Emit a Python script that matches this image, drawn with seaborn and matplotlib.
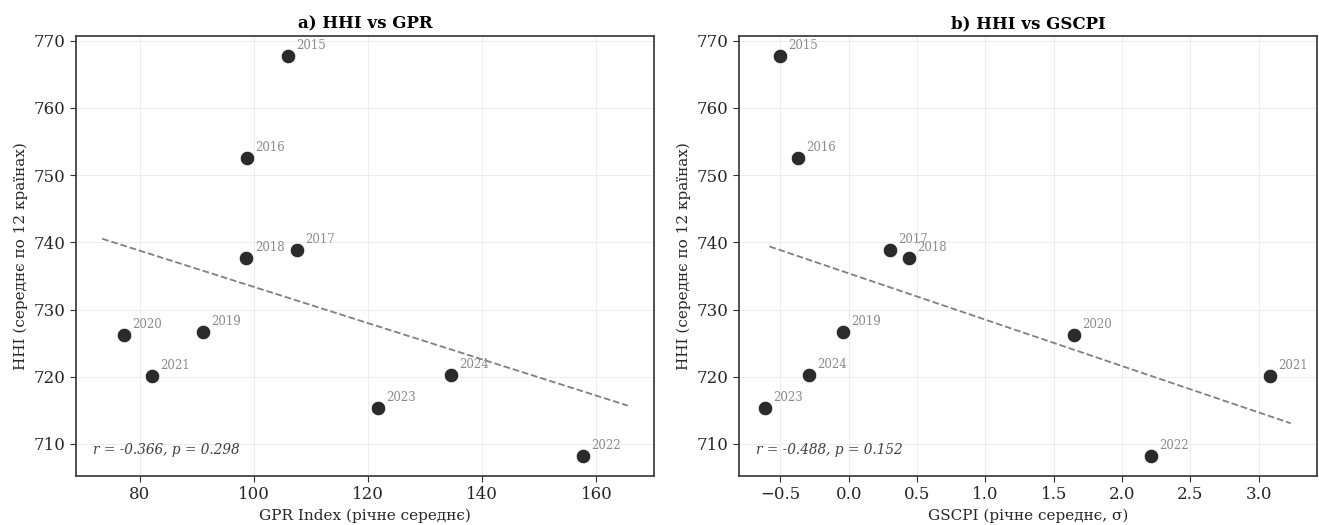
import numpy as np
import pandas as pd
import seaborn as sns
import matplotlib.pyplot as plt

# Annual averages 2015-2024
years = [2015, 2016, 2017, 2018, 2019, 2020, 2021, 2022, 2023, 2024]
hhi = [767.7, 752.5, 738.9, 737.7, 726.6, 726.2, 720.1, 708.2, 715.3, 720.2]
gpr = [106.0, 98.8, 107.5, 98.7, 91.0, 77.3, 82.1, 157.6, 121.7, 134.5]
gscpi = [-0.50, -0.37, 0.30, 0.44, -0.04, 1.65, 3.08, 2.21, -0.61, -0.29]

stats_gpr = "r = -0.366, p = 0.298"
stats_gscpi = "r = -0.488, p = 0.152"

df = pd.DataFrame({"year": years, "hhi": hhi, "gpr": gpr, "gscpi": gscpi})

sns.set_style("ticks")
plt.rcParams['font.family'] = ['DejaVu Serif']

fig, axes = plt.subplots(1, 2, figsize=(13.19, 5.25), dpi=100)
fig.subplots_adjust(left=0.0576, right=0.9985, bottom=0.0933, top=0.931, wspace=0.147)

panels = [
    (axes[0], "gpr", "a) HHI vs GPR", "GPR Index (річне середнє)", stats_gpr),
    (axes[1], "gscpi", "b) HHI vs GSCPI", "GSCPI (річне середнє, σ)", stats_gscpi),
]

for ax, col, title, xlabel, stats in panels:
    sns.scatterplot(data=df, x=col, y="hhi", ax=ax, s=110, color="#2b2b2b",
                    edgecolor="white", linewidth=0.6, zorder=3)
    for _, row in df.iterrows():
        ax.annotate(str(int(row["year"])), (row[col], row["hhi"]),
                    xytext=(6, 5), textcoords="offset points",
                    fontsize=8.5, color="#8a8a8a")
    # linear trend
    slope, intercept = np.polyfit(df[col], df["hhi"], 1)
    xs = np.linspace(df[col].min() * 0.95, df[col].max() * 1.05, 50)
    ax.plot(xs, slope * xs + intercept, "--", color="gray", linewidth=1.3, zorder=2)

    ax.text(0.03, 0.05, stats, transform=ax.transAxes, fontsize=9.8,
            style="italic", color="#404040")
    ax.set_title(title, fontsize=12, weight="bold", color="black")
    ax.set_xlabel(xlabel, fontsize=11)
    ax.set_ylabel("HHI (середнє по 12 країнах)", fontsize=11)
    ax.tick_params(labelsize=12, length=4, color="#333333")
    ax.grid(True, color="#ededed", linewidth=0.7)
    ax.set_axisbelow(True)
    for sp in ax.spines.values():
        sp.set_color("#333333")
        sp.set_linewidth(1.2)

fig.savefig("out.png", dpi=100)
